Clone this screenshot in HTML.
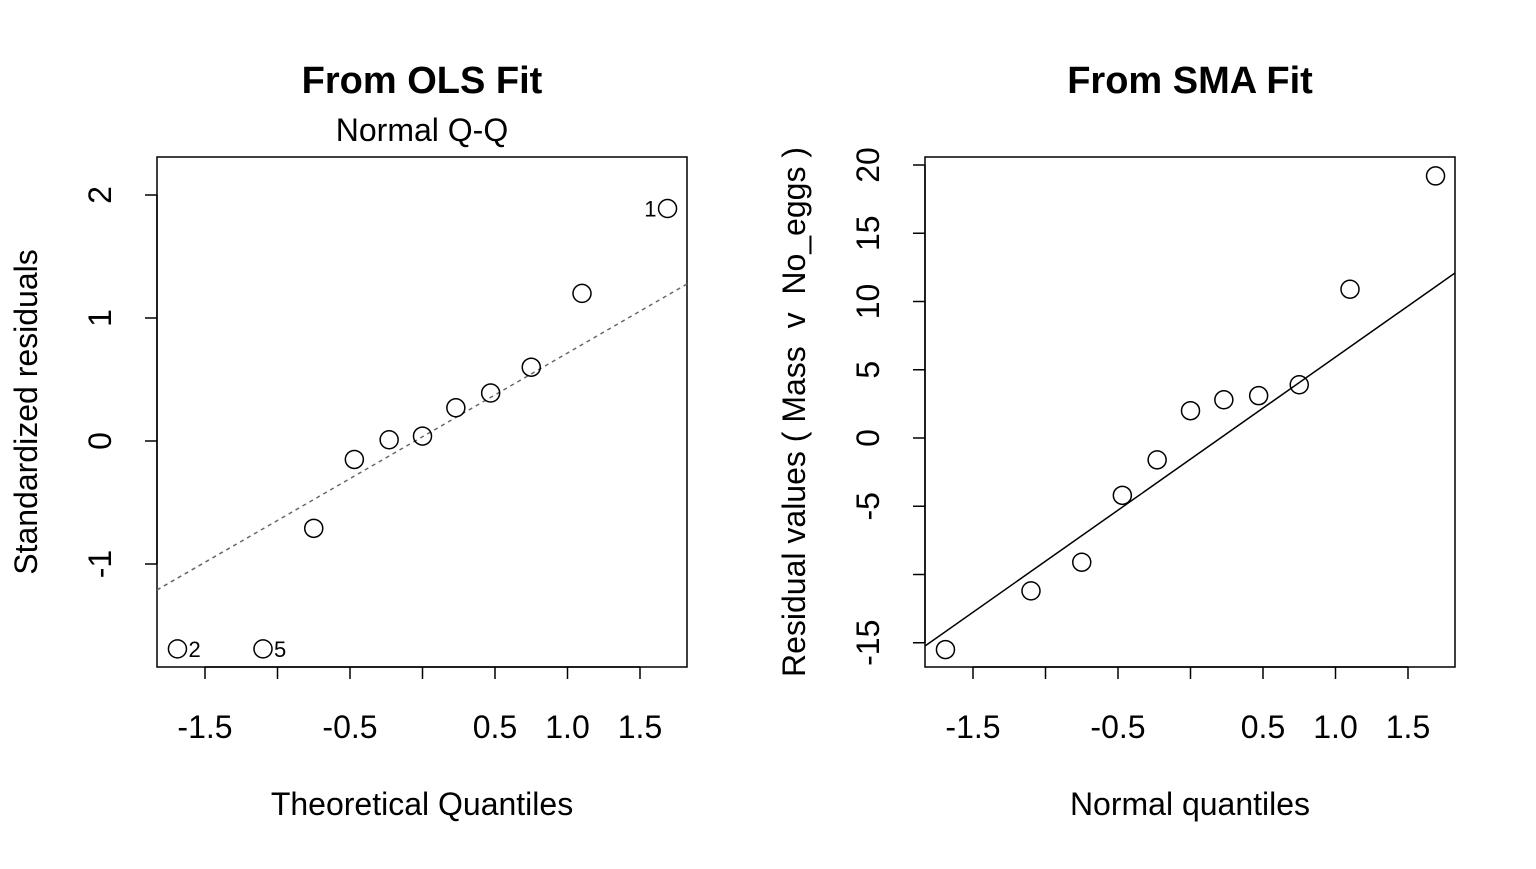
<!DOCTYPE html>
<html><head><meta charset="utf-8"><style>
body{margin:0;background:#fff;}
svg text{font-family:"Liberation Sans",Arial,sans-serif;fill:#000;white-space:pre;}
</style></head><body>
<svg id="chart" width="1536" height="864" viewBox="0 0 1536 864" xmlns="http://www.w3.org/2000/svg"></svg>
<script>
const olsX = [-1.69,-1.10,-0.75,-0.47,-0.23,0,0.23,0.47,0.75,1.10,1.69];
const olsY = [-1.69,-1.69,-0.71,-0.15,0.01,0.04,0.27,0.39,0.60,1.20,1.89];
const olsLine = [[-1.831,-1.211],[1.824,1.276]];
const olsXTicks = [-1.5,-1,-0.5,0,0.5,1,1.5];
const olsXLabels = ["-1.5","","-0.5","","0.5","1.0","1.5"];
const olsYTicks = [-1,0,1,2];
const olsYLabels = ["-1","0","1","2"];
const smaX = [-1.69,-1.10,-0.75,-0.47,-0.23,0,0.23,0.47,0.75,1.10,1.69];
const smaY = [-15.5,-11.2,-9.1,-4.2,-1.6,2.0,2.8,3.1,3.9,10.9,19.2];
const smaLine = [[-1.831,-15.24],[1.824,12.09]];
const smaYTicks = [-15,-10,-5,0,5,10,15,20];
const smaYLabels = ["-15","","-5","0","5","10","15","20"];

const svg = document.getElementById('chart');
const NS = 'http://www.w3.org/2000/svg';
function mk(tag, attrs, name, parent){
  const e = document.createElementNS(NS, tag);
  for (const k in attrs) e.setAttribute(k, attrs[k]);
  
  
  (parent||svg).appendChild(e);
  return e;
}
function txt(x,y,s,size,name,opts){
  opts=opts||{};
  const t = mk('text',{x:x,y:y,'font-size':size,'text-anchor':opts.anchor||'middle','font-weight':opts.bold?'bold':'normal'},name);
  if(opts.rot) t.setAttribute('transform','rotate(-90 '+x+' '+y+')');
  t.textContent = s;
  return t;
}
function panel(cfg){
  const L=cfg.left, R=L+530, T=157, B=667;
  const sx = v => cfg.x0 + v*145;
  const sy = v => cfg.y0 - v*cfg.yk;
  mk('rect',{x:L,y:T,width:530,height:510,fill:'none',stroke:'#000','stroke-width':1.5},cfg.p+'-plot-box');
  cfg.xt.forEach((v,i)=>{
    mk('line',{x1:sx(v),x2:sx(v),y1:B,y2:B+12,stroke:'#000','stroke-width':1.5},cfg.p+'-x-tick');
    if(cfg.xl[i]) txt(sx(v),B+71,cfg.xl[i],32,cfg.p+'-x-tick-label');
  });
  mk('line',{x1:sx(cfg.xt[0]),x2:sx(cfg.xt[cfg.xt.length-1]),y1:B,y2:B,stroke:'#000','stroke-width':1.5},cfg.p+'-x-axis');
  cfg.yt.forEach((v,i)=>{
    mk('line',{x1:L-12,x2:L,y1:sy(v),y2:sy(v),stroke:'#000','stroke-width':1.5},cfg.p+'-y-tick');
    if(cfg.yl[i]) txt(L-46,sy(v),cfg.yl[i],32,cfg.p+'-y-tick-label',{rot:true});
  });
  mk('line',{x1:L,x2:L,y1:sy(cfg.yt[0]),y2:sy(cfg.yt[cfg.yt.length-1]),stroke:'#000','stroke-width':1.5},cfg.p+'-y-axis');
  const ln=cfg.line;
  const l=mk('line',{x1:sx(ln[0][0]),y1:sy(ln[0][1]),x2:sx(ln[1][0]),y2:sy(ln[1][1]),stroke:cfg.dash?'#666':'#000','stroke-width':1.5},cfg.p+'-reference-line');
  if(cfg.dash) l.setAttribute('stroke-dasharray','4 4');
  cfg.xs.forEach((v,i)=>{
    mk('circle',{cx:sx(v),cy:sy(cfg.ys[i]),r:9,fill:'none',stroke:'#000','stroke-width':1.5},cfg.p+'-point');
  });
  txt(L+265,93,cfg.title,38,cfg.p+'-title',{bold:true});
  txt(L+265,815,cfg.xlab,32,cfg.p+'-x-axis-title');
  txt(cfg.ylx,412,cfg.ylab,32,cfg.p+'-y-axis-title',{rot:true});
  return {sx,sy};
}
const a = panel({p:'ols',left:157,x0:422.5,y0:441,yk:123,xt:olsXTicks,xl:olsXLabels,yt:olsYTicks,yl:olsYLabels,
  xs:olsX,ys:olsY,line:olsLine,dash:true,title:'From OLS Fit',xlab:'Theoretical Quantiles',ylab:'Standardized residuals',ylx:37});
txt(422,141,'Normal Q-Q',32,'ols-subtitle');
txt(a.sx(olsX[10])-11,a.sy(olsY[10])+8,'1',22,'point-label-1',{anchor:'end'});
txt(a.sx(olsX[0])+11,a.sy(olsY[0])+8,'2',22,'point-label-2',{anchor:'start'});
txt(a.sx(olsX[1])+11,a.sy(olsY[1])+8,'5',22,'point-label-5',{anchor:'start'});
panel({p:'sma',left:925,x0:1190.5,y0:438,yk:13.65,xt:olsXTicks,xl:olsXLabels,yt:smaYTicks,yl:smaYLabels,
  xs:smaX,ys:smaY,line:smaLine,dash:false,title:'From SMA Fit',xlab:'Normal quantiles',ylab:'Residual values ( Mass  v  No_eggs )',ylx:805});
</script>
</body></html>
